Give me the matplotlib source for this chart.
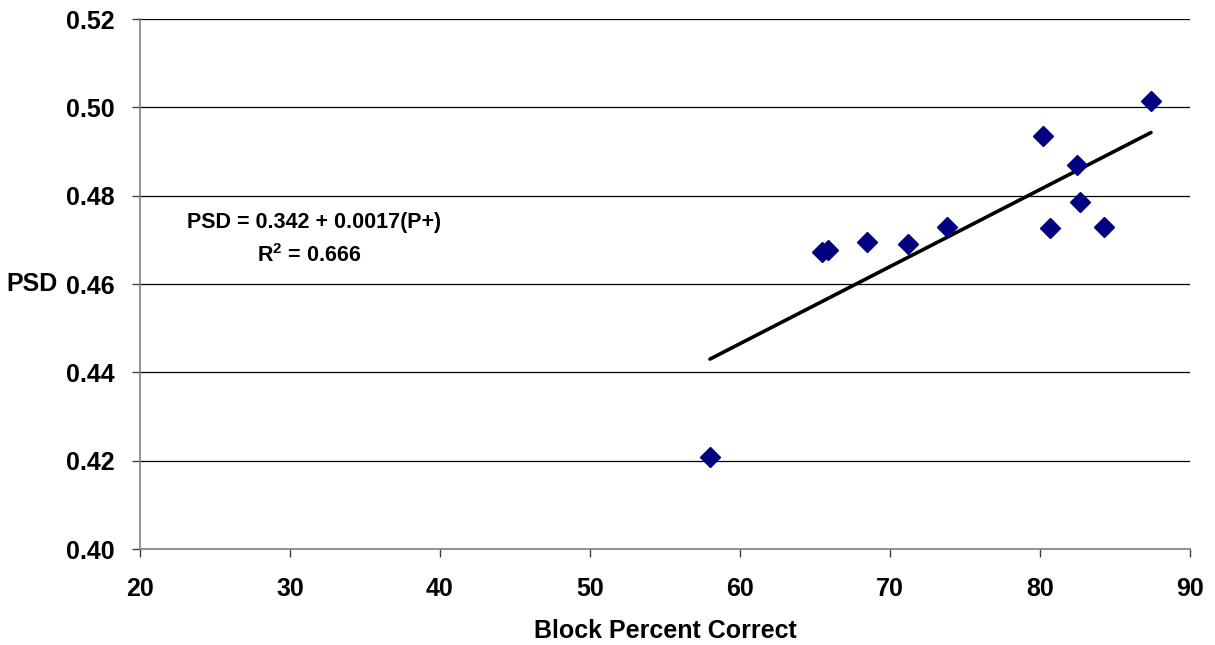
import matplotlib
matplotlib.use("Agg")
import matplotlib.pyplot as plt
import numpy as np

plt.rcParams['font.family'] = ['Liberation Sans', 'DejaVu Sans']
plt.rcParams['font.weight'] = 'bold'

# Block percent correct vs PSD
block_pct = [58.0, 65.5, 65.9, 68.5, 71.2, 73.8, 80.2, 80.7, 82.5, 82.7, 84.3, 87.4]
psd = [0.4208, 0.4672, 0.4677, 0.4695, 0.4691, 0.4729,
       0.4935, 0.4727, 0.4869, 0.4786, 0.4729, 0.5014]

x_ticks = [20, 30, 40, 50, 60, 70, 80, 90]
y_ticks = [0.40, 0.42, 0.44, 0.46, 0.48, 0.50, 0.52]

eq_text = "PSD = 0.342 + 0.0017(P+)"
r2_text = "R$^{\\mathregular{2}}$ = 0.666"

fig = plt.figure(figsize=(12.15, 6.45), dpi=100)
ax = fig.add_axes([0.1152, 0.1488, 0.8642, 0.8217])

ax.set_xlim(20, 90)
ax.set_ylim(0.40, 0.52)
ax.set_xticks(x_ticks)
ax.set_yticks(y_ticks)
ax.set_yticklabels(["%.2f" % v for v in y_ticks])

# horizontal grid
ax.grid(axis='y', color='black', linewidth=0.9)
ax.set_axisbelow(True)

for s in ['top', 'right']:
    ax.spines[s].set_visible(False)
for s in ['left', 'bottom']:
    ax.spines[s].set_color('#808080')
    ax.spines[s].set_linewidth(1.2)

ax.tick_params(axis='both', labelsize=18, length=6, width=1, color='#404040')
ax.tick_params(axis='x', pad=14)
ax.tick_params(axis='y', pad=12)
for lab in ax.get_xticklabels() + ax.get_yticklabels():
    lab.set_fontweight('bold')

# trend line (least squares)
x = np.array(block_pct)
y = np.array(psd)
b, a = np.polyfit(x, y, 1)
xl = np.array([x.min(), x.max()])
ax.plot(xl, a + b * xl, color='black', linewidth=2.6, solid_capstyle='round', zorder=3)

ax.plot(x, y, linestyle='none', marker='D', markersize=10,
        color='#000080', markeredgecolor='#000080', zorder=4, clip_on=False)

ax.text(31.6, 0.4740, eq_text, ha='center', va='center', fontsize=15.5, fontweight='bold')
ax.text(31.3, 0.4664, r2_text, ha='center', va='center', fontsize=15.5, fontweight='bold')

ax.set_xlabel("Block Percent Correct", fontsize=18, fontweight='bold', labelpad=13)
ax.set_ylabel("PSD", fontsize=18, fontweight='bold', rotation=0, ha='right', va='center')
ax.yaxis.set_label_coords(-0.078, 0.5)

fig.savefig("out.png", dpi=100)
